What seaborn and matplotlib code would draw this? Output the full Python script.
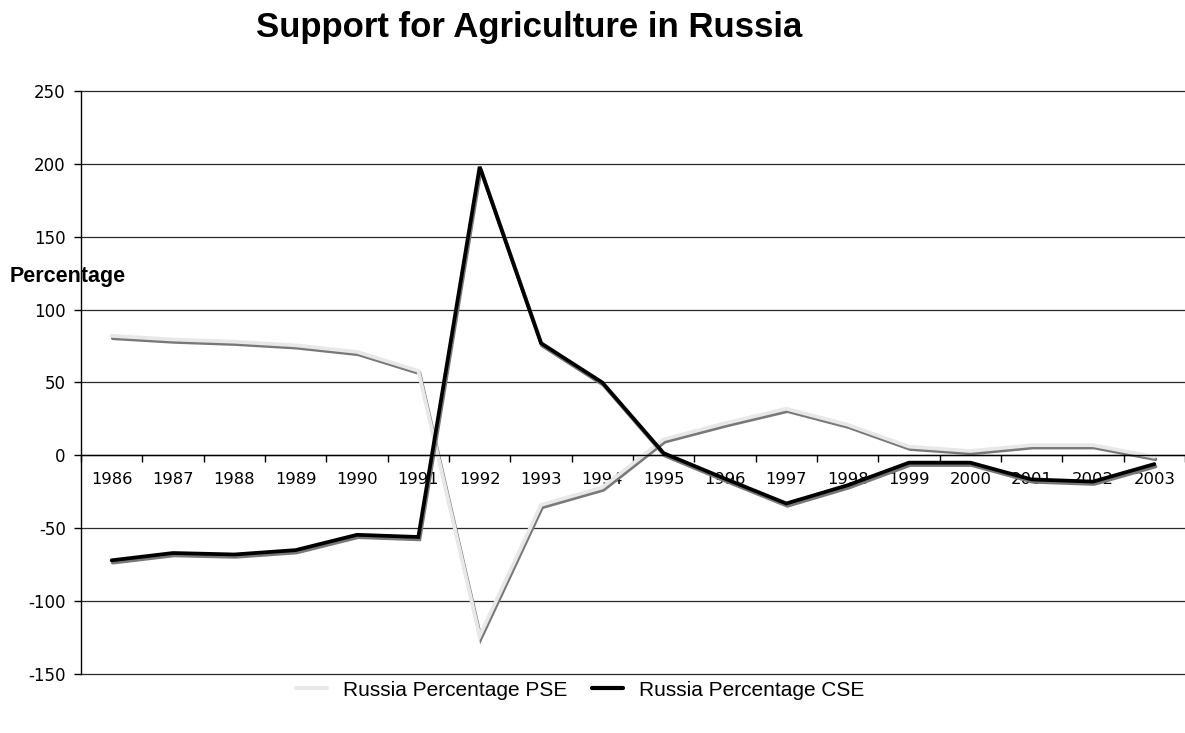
import matplotlib
matplotlib.use("Agg")
import matplotlib.pyplot as plt
import matplotlib.patheffects as pe
from matplotlib.lines import Line2D
import numpy as np
import pandas as pd
import seaborn as sns

years = [1986, 1987, 1988, 1989, 1990, 1991, 1992, 1993, 1994,
         1995, 1996, 1997, 1998, 1999, 2000, 2001, 2002, 2003]
pse = [82, 79.5, 78, 75.5, 71, 58, -124, -34, -22,
       11, 22, 32, 21, 6, 3, 7, 7, -1]
cse = [-72, -67, -68, -65, -54.5, -56, 198, 77, 50,
       1.5, -16, -33, -20.5, -5, -5, -16.5, -18, -6]
series_names = ["Russia Percentage PSE", "Russia Percentage CSE"]
series_colors = ["#e8e8e8", "#000000"]
y_ticks = [-150, -100, -50, 0, 50, 100, 150, 200, 250]

sns.set_theme(style="white")
plt.rcParams["font.family"] = ["DejaVu Sans"]
plt.rcParams.update({"text.color": "black", "axes.labelcolor": "black",
                     "xtick.color": "black", "ytick.color": "black"})

df = pd.DataFrame({
    "pos": list(range(len(years))) * 2,
    "value": pse + cse,
    "series": [series_names[0]] * len(years) + [series_names[1]] * len(years),
})

fig = plt.figure(figsize=(11.85, 7.33), dpi=100)
ax = fig.add_axes([81 / 1185, 1 - 674 / 733, 1 - 81 / 1185, (674 - 91) / 733])

sns.lineplot(data=df, x="pos", y="value", hue="series",
             palette=dict(zip(series_names, series_colors)),
             linewidth=2.7, ax=ax, legend=False, sort=False)

shadow = [pe.SimpleLineShadow(offset=(0.8, -1.7), shadow_color="#787878", alpha=1.0),
          pe.Normal()]
for line in ax.get_lines():
    line.set_path_effects(shadow)
    line.set_solid_joinstyle("miter")

ax.set_xlim(-0.5, len(years) - 0.5)
ax.set_ylim(y_ticks[0], y_ticks[-1])
ax.set_yticks(y_ticks)
ax.set_yticklabels([str(v) for v in y_ticks])
ax.yaxis.grid(True, color="#2a2a2a", linewidth=0.9)
for gl in ax.yaxis.get_gridlines():
    gl.set_clip_on(False)
ax.xaxis.grid(False)
ax.set_axisbelow(True)

# category boundary ticks on the zero line, labels centred below each year
ax.set_xticks(np.arange(-0.5, len(years), 1.0))
ax.set_xticklabels([])
ax.set_xticks(np.arange(len(years)), minor=True)
ax.set_xticklabels([str(y) for y in years], minor=True)
ax.tick_params(axis="x", which="major", direction="out", length=5, width=1, color="black", bottom=True)
ax.tick_params(axis="x", which="minor", length=0, pad=12, labelcolor="black", labelsize=11.8)
ax.tick_params(axis="y", direction="out", length=5, width=1, color="black", left=True,
               labelcolor="black", pad=6, labelsize=12)

for side in ["top", "right"]:
    ax.spines[side].set_visible(False)
ax.spines["left"].set_color("black")
ax.spines["left"].set_linewidth(1)
ax.spines["bottom"].set_position(("data", 0))
ax.spines["bottom"].set_color("black")
ax.spines["bottom"].set_linewidth(1)
ax.set_xlabel("")
ax.set_ylabel("")

fig.text(529 / 1185, 1 - 27 / 733, "Support for Agriculture in Russia",
         ha="center", va="center", fontsize=25, fontweight="bold", color="black",
         family=["Liberation Sans", "DejaVu Sans"])
fig.text(10 / 1185, 1 - 277 / 733, "Percentage", ha="left", va="center",
         fontsize=15.5, fontweight="bold", color="black",
         family=["Liberation Sans", "DejaVu Sans"])

handles = [Line2D([0], [0], color=c, linewidth=3) for c in series_colors]
leg = fig.legend(handles, series_names, loc="center", ncol=2, frameon=False,
                 bbox_to_anchor=(580 / 1185, 1 - 690 / 733),
                 handlelength=1.5, columnspacing=1.2, handletextpad=0.75,
                 prop={"family": ["Liberation Sans", "DejaVu Sans"], "size": 15})
for t in leg.get_texts():
    t.set_color("black")

fig.savefig("out.png", dpi=100, facecolor="white")
